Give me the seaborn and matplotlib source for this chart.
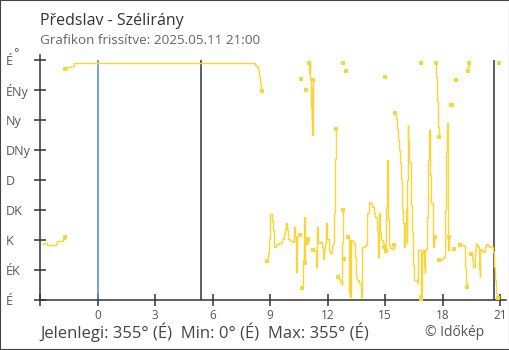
import numpy as np
import pandas as pd
import matplotlib
matplotlib.use("Agg")
import matplotlib.pyplot as plt
import seaborn as sns
from matplotlib.patches import Rectangle

# ---------------- data ----------------
hours = [
    -2.92, -2.77, -2.62, -2.31, -2.19, -2.10, -1.93, -1.81, -1.71,
    -1.70, -1.58, -1.40, -1.22, 8.12, 8.19, 8.28, 8.33, 8.38, 8.43, 8.49, 8.54, 8.57,
    8.83, 8.88, 8.97, 9.02, 9.08, 9.13, 9.20, 9.29, 9.37, 9.46, 9.55, 9.63, 9.72, 9.77,
    9.84, 9.90, 9.95, 10.03, 10.12, 10.19, 10.24, 10.29, 10.37, 10.42, 10.48, 10.54,
    10.60,
    10.65, 10.70, 10.76, 10.81,
    10.87,
    10.92, 10.97,
    11.02, 11.05, 11.08, 11.11, 11.13, 11.15, 11.17, 11.19, 11.21, 11.23,
    11.26, 11.28, 11.39, 11.46, 11.51, 11.63, 11.72, 11.77, 11.81, 11.88, 11.93, 11.98,
    12.09, 12.15, 12.21, 12.27, 12.33, 12.38, 12.43,
    12.54, 12.60, 12.66, 12.73, 12.76, 12.79,
    12.80,
    12.85,
    12.95,
    13.09, 13.12, 13.15, 13.18, 13.21, 13.25, 13.34, 13.41, 13.47, 13.55, 13.63, 13.72,
    13.77, 13.82, 13.98, 14.07, 14.15, 14.24, 14.33, 14.41, 14.50, 14.59, 14.64, 14.67,
    14.73, 14.76, 14.81, 14.88, 14.94,
    14.99,
    15.04, 15.06, 15.09, 15.13, 15.16, 15.20, 15.28, 15.37, 15.46,
    15.51, 15.56, 15.60, 15.67, 15.72, 15.77, 15.81, 15.86, 15.91, 15.95, 15.98, 16.01,
    16.05, 16.08, 16.12, 16.16, 16.19, 16.22, 16.26, 16.33, 16.38, 16.43, 16.48, 16.52,
    16.60, 16.68, 16.71, 16.76, 16.85,
    16.87,
    16.90, 16.95, 16.99, 17.02, 17.06, 17.11, 17.16,
    17.20, 17.23, 17.28, 17.32, 17.37, 17.42, 17.48, 17.51, 17.56, 17.63,
    17.64, 17.66, 17.71, 17.76, 17.80,
    17.83, 17.93, 18.03, 18.12, 18.17, 18.22, 18.26, 18.29, 18.33,
    18.42, 18.50,
    18.59,
    18.69,
    18.90, 19.11, 19.18, 19.23, 19.29,
    19.32, 19.34, 19.36,
    19.46, 19.53, 19.56, 19.61, 19.67, 19.72, 19.77, 19.84, 19.89, 19.93, 19.96, 20.03,
    20.12, 20.20, 20.29, 20.38, 20.50, 20.59, 20.64, 20.67, 20.72, 20.80, 20.85, 20.90,
    20.93,
]
direction_deg = [
    84, 86, 83, 83, 85, 88, 89, 91, 94,
    347, 349, 351, 355, 355, 352, 351, 350, 345, 335, 326, 317, 313,
    58, 70, 92, 129, 119, 105, 80, 82, 84, 85, 87, 92, 101, 107,
    116, 105, 92, 89, 88, 87, 110, 95, 42, 96, 97, 97,
    332,
    18, 60, 125, 55,
    315,
    85, 91,
    355, 340, 355, 330, 290, 320, 270, 300, 248, 330,
    75, 75, 50, 110, 86, 87, 80, 62, 75, 86, 115, 91,
    75, 70, 81, 86, 130, 212, 257,
    35, 32, 27, 22, 85, 135,
    355,
    62,
    343,
    95, 10, 90, 5, 88, 90, 85, 65, 35, 30, 25, 15,
    5, 80, 82, 130, 147, 145, 140, 130, 125, 105, 65, 130,
    115, 102, 90, 86, 80,
    335,
    73, 140, 210, 182, 122, 82, 78, 76, 83,
    281, 272, 257, 240, 225, 205, 182, 160, 137, 115, 100, 80,
    115, 137, 85, 180, 262, 240, 207, 175, 142, 102, 52, 30,
    30, 25, 75, 75, 5,
    355,
    0, 70, 75, 50, 40, 75, 77,
    125, 210, 255, 230, 187, 145, 102, 80, 95, 94,
    355, 335, 298, 260, 244,
    60, 61, 65, 135, 222, 265, 95, 75, 94,
    293, 293,
    76,
    330,
    82, 81, 50, 25, 20,
    343, 351, 355,
    69, 69, 62, 50, 75, 85, 82, 80, 47, 35, 77, 75,
    72, 80, 84, 81, 80, 80, 72, 50, 30, 10, 0, 3,
    355,
]

y_tick_values = [0, 45, 90, 135, 180, 225, 270, 315, 360]
y_tick_labels = ["É", "ÉK", "K", "DK", "D", "DNy", "Ny", "ÉNy", "É"]
x_tick_values = [-3, 0, 3, 6, 9, 12, 15, 18, 21]
x_tick_labels = ["", "0", "3", "6", "9", "12", "15", "18", "21"]
midnight_hour = [0]
sun_hours = [5.42, 20.66]

title = "Předslav - Szélirány"
subtitle = "Grafikon frissítve: 2025.05.11 21:00"
footer = "Jelenlegi: 355° (É)  Min: 0° (É)  Max: 355° (É)"
credit = "© Időkép"
unit = "°"

# ---------------- style ----------------
sns.set_style("ticks")
plt.rcParams["font.family"] = ["Open Sans", "DejaVu Sans"]

LINE = "#fbd437"
AX = "#333333"
W, H = 510, 350

df = pd.DataFrame({"h": hours, "deg": direction_deg})
df["seg"] = (df["deg"].diff().abs() > 180).cumsum()
ends = pd.concat([df.groupby("seg").head(1), df.groupby("seg").tail(1)])
ends = ends[~ends.index.duplicated()]
ends = ends[ends.index != 0]

fig = plt.figure(figsize=(W / 100, H / 100), dpi=100)
fig.patch.set_facecolor("white")
ax = fig.add_axes([40 / W, 50 / H, 466 / W, 245 / H])

sns.lineplot(data=df, x="h", y="deg", units="seg", estimator=None,
             color=LINE, lw=1.0, drawstyle="steps-post", ax=ax,
             legend=False, zorder=3)
sns.scatterplot(data=ends, x="h", y="deg", marker="s", s=9, color=LINE,
                linewidth=0, ax=ax, legend=False, zorder=4)

ax.vlines(midnight_hour, 0, 360, color="#4a8fc8", lw=1.1, zorder=2)
ax.vlines(sun_hours, 0, 360, color=AX, lw=1.1, zorder=2)

ax.set_xlim(-3, 21.31)
ax.set_ylim(0, 367.5)
ax.set_xticks(x_tick_values)
ax.set_xticklabels(x_tick_labels)
ax.set_yticks(y_tick_values)
ax.set_yticklabels(y_tick_labels)
ax.set_xlabel("")
ax.set_ylabel("")
for s in ["top", "right"]:
    ax.spines[s].set_visible(False)
for s in ["left", "bottom"]:
    ax.spines[s].set_color(AX)
    ax.spines[s].set_linewidth(1.1)
ax.tick_params(axis="both", direction="inout", length=9, width=1.1, color=AX,
               labelcolor="#555555")
ax.tick_params(axis="x", pad=2, labelsize=8.5)
ax.tick_params(axis="y", pad=20, labelsize=9)
for lbl in ax.get_yticklabels():
    lbl.set_ha("left")

def fy(px):
    return 1 - px / H

fig.text(40 / W, fy(25), title, fontsize=11.5, color="#333333", va="baseline")
fig.text(40 / W, fy(44), subtitle, fontsize=9.7, color="#666666", va="baseline")
fig.text(40 / W, fy(338), footer, fontsize=12, color="#444444", va="baseline")
fig.text(425 / W, fy(336), credit, fontsize=10, color="#555555", va="baseline")
fig.text(13 / W, fy(57), unit, fontsize=9, color="#555555", va="baseline")

fig.patches.append(Rectangle((0, 0), 1, 1, transform=fig.transFigure,
                             fill=False, ec="#444444", lw=1.5))

fig.savefig("out.png", dpi=100)
